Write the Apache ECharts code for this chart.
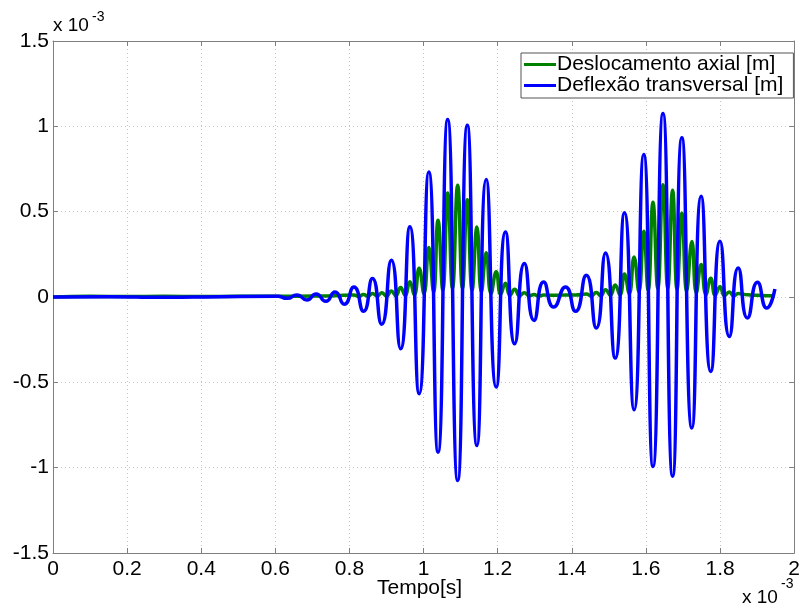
<!DOCTYPE html>
<html>
<head>
<meta charset="utf-8">
<script src="https://cdn.jsdelivr.net/npm/echarts@6/dist/echarts.min.js"></script>
<style>
  html, body { margin: 0; padding: 0; background: #fff; }
  #chart { width: 803px; height: 609px; }
</style>
</head>
<body>
<div id="chart"></div>
<script>
// Time axis in units of 1e-3 s, displacements in units of 1e-3 m.
const xTickValues = [0, 0.2, 0.4, 0.6, 0.8, 1, 1.2, 1.4, 1.6, 1.8, 2];
const xTickLabels = ['0', '0.2', '0.4', '0.6', '0.8', '1', '1.2', '1.4', '1.6', '1.8', '2'];
const yTickValues = [-1.5, -1, -0.5, 0, 0.5, 1, 1.5];
const yTickLabels = ['-1.5', '-1', '-0.5', '0', '0.5', '1', '1.5'];

// Transverse deflection: extrema of the two wave packets
const blueTime = [0, 0.15, 0.3, 0.45, 0.606, 0.632, 0.658, 0.685, 0.710, 0.736, 0.761, 0.786,
  0.812, 0.838, 0.862, 0.887, 0.913, 0.938, 0.963, 0.988, 1.014, 1.039, 1.065, 1.092,
  1.118, 1.144, 1.169, 1.196, 1.221, 1.246, 1.272, 1.298, 1.324, 1.351, 1.383, 1.410,
  1.439, 1.466, 1.491, 1.517, 1.542, 1.568, 1.594, 1.619, 1.646, 1.672, 1.697, 1.724,
  1.749, 1.775, 1.800, 1.825, 1.849, 1.874, 1.901, 1.926, 1.948];
const blueValue = [0, 0.002, -0.002, 0.002, 0.004, -0.008, 0.012, -0.017, 0.018, -0.025, 0.030, -0.042,
  0.058, -0.084, 0.108, -0.160, 0.215, -0.303, 0.411, -0.567, 0.733, -0.909, 1.040, -1.075,
  1.007, -0.870, 0.688, -0.528, 0.381, -0.274, 0.196, -0.137, 0.088, -0.059, 0.059, -0.084,
  0.127, -0.182, 0.258, -0.358, 0.493, -0.661, 0.835, -0.993, 1.075, -1.050, 0.933, -0.768,
  0.590, -0.436, 0.326, -0.231, 0.170, -0.123, 0.086, -0.065, 0.047];

// Axial displacement: peaks and dips of the doubled-frequency response
const greenTime = [0, 0.1, 0.2, 0.3, 0.4, 0.5, 0.6, 0.7, 0.761, 0.812, 0.825, 0.838, 0.850,
  0.862, 0.875, 0.887, 0.900, 0.913, 0.925, 0.938, 0.950, 0.963, 0.975, 0.988, 1.001,
  1.014, 1.027, 1.039, 1.052, 1.065, 1.078, 1.092, 1.105, 1.118, 1.131, 1.144, 1.156,
  1.169, 1.182, 1.196, 1.208, 1.221, 1.233, 1.246, 1.259, 1.272, 1.285, 1.298, 1.310,
  1.324, 1.351, 1.383, 1.410, 1.439, 1.452, 1.466, 1.478, 1.491, 1.504, 1.517, 1.530,
  1.542, 1.555, 1.568, 1.581, 1.594, 1.606, 1.619, 1.632, 1.646, 1.659, 1.672, 1.684,
  1.697, 1.710, 1.724, 1.736, 1.749, 1.762, 1.775, 1.787, 1.800, 1.812, 1.825, 1.837,
  1.849, 1.874, 1.901, 1.926, 1.948];
const greenValue = [0, 0.004, 0.003, 0.004, 0.003, 0.004, 0.004, 0.006, 0.008, 0.012, 0.004, 0.015, 0.004,
  0.020, 0.005, 0.025, 0.006, 0.035, 0.008, 0.055, 0.010, 0.090, 0.012, 0.168, 0.020,
  0.290, 0.030, 0.450, 0.040, 0.610, 0.050, 0.655, 0.050, 0.570, 0.040, 0.410, 0.030,
  0.260, 0.020, 0.148, 0.015, 0.080, 0.010, 0.045, 0.008, 0.025, 0.006, 0.015, 0.005,
  0.012, 0.010, 0.012, 0.012, 0.018, 0.006, 0.027, 0.008, 0.043, 0.010, 0.070, 0.012,
  0.135, 0.020, 0.235, 0.030, 0.385, 0.040, 0.555, 0.050, 0.657, 0.050, 0.625, 0.045,
  0.490, 0.035, 0.325, 0.025, 0.190, 0.015, 0.110, 0.010, 0.060, 0.008, 0.030, 0.006,
  0.020, 0.013, 0.010, 0.008, 0.008];

const pairs = (xs, ys) => xs.map((x, i) => [x, ys[i]]);
const lookup = (vals, labels) => v => {
  const i = vals.findIndex(t => Math.abs(t - v) < 1e-9);
  return i >= 0 ? labels[i] : '';
};

const FONT = '"Liberation Sans", Arial, sans-serif';
const AXIS_GREY = '#7f7f7f';
const GRID_GREY = '#c4c4c4';

const chart = echarts.init(document.getElementById('chart'), null, { renderer: 'canvas' });

const baseX = {
  type: 'value', min: 0, max: 2, interval: 0.2,
  axisLine: { show: true, onZero: false, lineStyle: { color: AXIS_GREY, width: 1 } },
  axisTick: { show: true, inside: true, length: 5, lineStyle: { color: AXIS_GREY } }
};
const baseY = {
  type: 'value', min: -1.5, max: 1.5, interval: 0.5,
  axisLine: { show: true, onZero: false, lineStyle: { color: AXIS_GREY, width: 1 } },
  axisTick: { show: true, inside: true, length: 5, lineStyle: { color: AXIS_GREY } }
};

chart.setOption({
  animation: false,
  backgroundColor: '#fff',
  grid: { left: 53, right: 7, top: 41, bottom: 56, containLabel: false },
  xAxis: [
    Object.assign({}, baseX, {
      position: 'bottom',
      axisLabel: { show: true, color: '#000', fontFamily: FONT, fontSize: 21, margin: 6,
        formatter: lookup(xTickValues, xTickLabels) },
      splitLine: { show: true, lineStyle: { color: GRID_GREY, type: [1, 3], width: 1 } }
    }),
    Object.assign({}, baseX, {
      position: 'top',
      axisLabel: { show: false },
      splitLine: { show: false }
    })
  ],
  yAxis: [
    Object.assign({}, baseY, {
      position: 'left',
      axisLabel: { show: true, color: '#000', fontFamily: FONT, fontSize: 21, margin: 4,
        formatter: lookup(yTickValues, yTickLabels) },
      splitLine: { show: true, lineStyle: { color: GRID_GREY, type: [1, 3], width: 1 } }
    }),
    Object.assign({}, baseY, {
      position: 'right',
      axisLabel: { show: false },
      splitLine: { show: false }
    })
  ],
  legend: {
    left: 521, top: 53,
    orient: 'vertical',
    itemGap: 0,
    itemWidth: 32,
    itemHeight: 3,
    icon: 'rect',
    padding: [1, 10, 2, 3],
    backgroundColor: '#fff',
    borderColor: '#555',
    borderWidth: 1,
    borderRadius: 0,
    textStyle: { color: '#000', fontFamily: FONT, fontSize: 21, lineHeight: 20, padding: [0, 0, 0, -4] },
    data: ['Deslocamento axial [m]', 'Deflexão transversal [m]']
  },
  graphic: [
    { type: 'text', left: 53, top: 16,
      style: { text: 'x 10', font: '19px ' + FONT, fill: '#000' } },
    { type: 'text', left: 92, top: 10,
      style: { text: '-3', font: '14px ' + FONT, fill: '#000' } },
    { type: 'text', left: 742, top: 588,
      style: { text: 'x 10', font: '19px ' + FONT, fill: '#000' } },
    { type: 'text', left: 781, top: 577,
      style: { text: '-3', font: '14px ' + FONT, fill: '#000' } },
    { type: 'text', left: 377, top: 578,
      style: { text: 'Tempo[s]', font: '21px ' + FONT, fill: '#000' } }
  ],
  series: [
    {
      name: 'Deslocamento axial [m]', type: 'line',
      xAxisIndex: 0, yAxisIndex: 0,
      data: pairs(greenTime, greenValue),
      symbol: 'none', showSymbol: false, smooth: 0.5,
      itemStyle: { color: '#008000' },
      lineStyle: { color: '#008000', width: 3.5 },
      z: 2
    },
    {
      name: 'Deflexão transversal [m]', type: 'line',
      xAxisIndex: 0, yAxisIndex: 0,
      data: pairs(blueTime, blueValue),
      symbol: 'none', showSymbol: false, smooth: 0.6,
      itemStyle: { color: '#0000ff' },
      lineStyle: { color: '#0000ff', width: 3.5 },
      z: 3
    }
  ]
});
</script>
</body>
</html>
